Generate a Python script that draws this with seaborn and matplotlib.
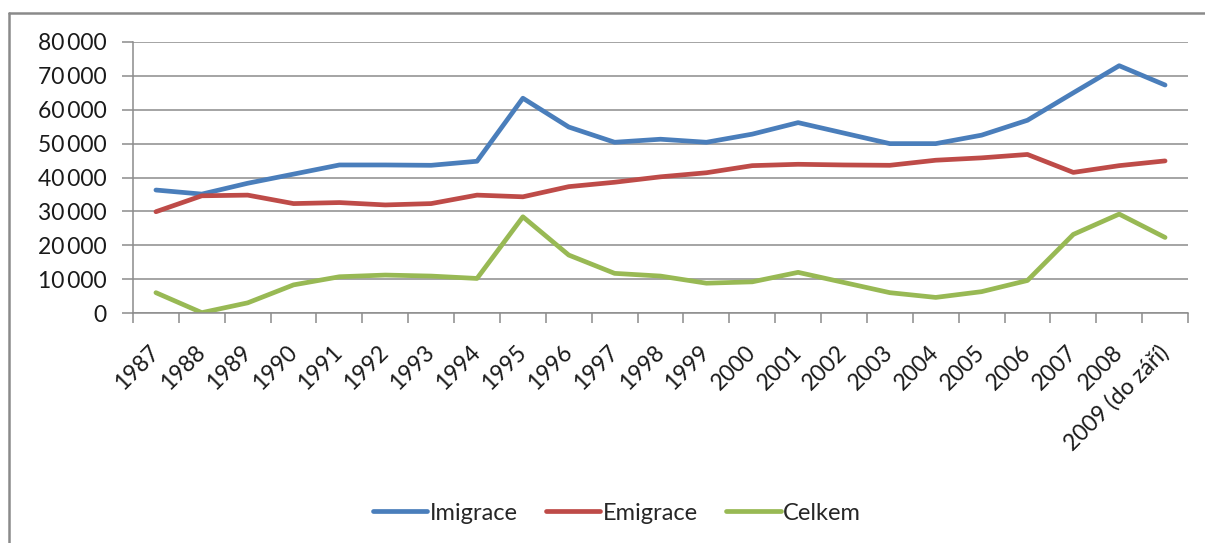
import matplotlib
matplotlib.use("Agg")
import matplotlib.pyplot as plt
from matplotlib.lines import Line2D
from matplotlib.ticker import FuncFormatter
import numpy as np
import pandas as pd
import seaborn as sns

roky = ["1987", "1988", "1989", "1990", "1991", "1992", "1993", "1994", "1995",
        "1996", "1997", "1998", "1999", "2000", "2001", "2002", "2003", "2004",
        "2005", "2006", "2007", "2008", "2009 (do září)"]
imigrace = [36300, 35100, 38300, 41000, 43700, 43700, 43600, 44800, 63400,
            54900, 50400, 51300, 50400, 52800, 56200, 53100, 50000, 50000,
            52500, 56900, 65000, 73000, 67300]
emigrace = [29900, 34600, 34800, 32300, 32600, 31900, 32300, 34800, 34300,
            37300, 38600, 40200, 41400, 43500, 43900, 43700, 43600, 45100,
            45800, 46800, 41500, 43500, 44900]
celkem = [6000, 100, 3000, 8300, 10700, 11200, 10900, 10200, 28400,
          17100, 11700, 10900, 8800, 9200, 12000, 9000, 6000, 4600,
          6300, 9600, 23200, 29200, 22300]
nazvy = ["Imigrace", "Emigrace", "Celkem"]
barvy = ["#4A7EBB", "#BE4B48", "#98B954"]

df = pd.DataFrame({
    "rok": roky * 3,
    "hodnota": imigrace + emigrace + celkem,
    "rada": [n for n in nazvy for _ in roky],
})

sns.set_theme(style="white")
plt.rcParams["font.family"] = ["Lato", "DejaVu Sans"]

fig = plt.figure(figsize=(12.05, 5.43), dpi=100)
ax = fig.add_axes([133 / 1205, 1 - 313 / 543, (1188 - 133) / 1205, (313 - 42) / 543])

sns.lineplot(data=df, x="rok", y="hodnota", hue="rada", hue_order=nazvy,
             palette=barvy, sort=False, linewidth=3.4, ax=ax, legend=False)

grid_c = "#8C8C8C"
ax.set_xlim(-0.5, len(roky) - 0.5)
ax.set_ylim(0, 80000)
ax.set_yticks(np.arange(0, 80001, 10000))
ax.yaxis.set_major_formatter(FuncFormatter(
    lambda v, p: f"{int(v):,}".replace(",", "\u2009")))
ax.grid(axis="y", color=grid_c, linewidth=1.1)
ax.set_axisbelow(True)
ax.set_xlabel("")
ax.set_ylabel("")

ax.set_xticks(range(len(roky)))
ax.set_xticklabels(roky, rotation=45, ha="right", va="center",
                   rotation_mode="anchor")
ax.set_xticks(np.arange(-0.5, len(roky), 1.0), minor=True)
ax.tick_params(axis="x", which="major", length=0, pad=26, labelsize=16.5,
               colors="#1a1a1a")
ax.tick_params(axis="x", which="minor", length=7, width=1.1, color=grid_c,
               bottom=True)
ax.tick_params(axis="y", length=8, width=1.1, color=grid_c, left=True,
               labelsize=16.5, labelcolor="#1a1a1a", pad=11)

for s in ["top", "right"]:
    ax.spines[s].set_visible(False)
for s in ["left", "bottom"]:
    ax.spines[s].set_color(grid_c)
    ax.spines[s].set_linewidth(1.1)

handles = [Line2D([], [], color=c, linewidth=3.4) for c in barvy]
fig.legend(handles, nazvy, loc="center", bbox_to_anchor=(617 / 1205, 1 - 513 / 543),
           ncol=3, frameon=False, fontsize=17, handlelength=2.3,
           handletextpad=0.1, columnspacing=1.2)

# outer chart frame
frame_c = "#8A8A8A"
fig.add_artist(Line2D([9 / 1205, 1.0], [1 - 13 / 543, 1 - 13 / 543],
                      color=frame_c, linewidth=1.8, transform=fig.transFigure))
fig.add_artist(Line2D([9 / 1205, 9 / 1205], [0.0, 1 - 13 / 543],
                      color=frame_c, linewidth=1.8, transform=fig.transFigure))

fig.savefig("out.png", dpi=100, facecolor="white")
